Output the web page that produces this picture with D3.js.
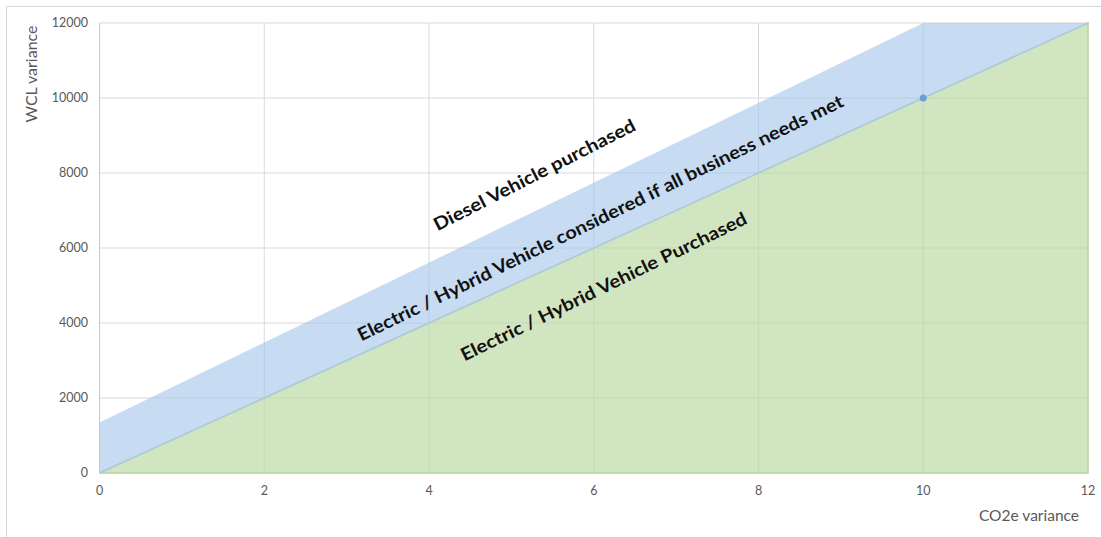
<!DOCTYPE html>
<html>
<head>
<meta charset="utf-8">
<script src="https://cdn.jsdelivr.net/npm/d3@7"></script>
<style>
  body { margin: 0; background: #fff; }
  svg { display: block; font-family: Lato, "Open Sans", sans-serif; }
</style>
</head>
<body>
<svg id="chart" width="1101" height="537"></svg>
<script>
// data
const xTicks = [0, 2, 4, 6, 8, 10, 12]
const yTicks = [0, 2000, 4000, 6000, 8000, 10000, 12000]
// lower line: purchased threshold
const greenLine = [{x: 0, y: 0}, {x: 12, y: 12000}]
// upper band edge (clipped at chart top)
const blueUpper = [{x: 0, y: 0}, {x: 0, y: 1350}, {x: 10, y: 12000}, {x: 12, y: 12000}]
const markerPoint = [{x: 10, y: 10000}]
const regionLabels = [
  {text: 'Diesel Vehicle purchased', x: 5.28, y: 7950, len: 224, rot: -27},
  {text: 'Electric / Hybrid Vehicle considered if all business needs met', x: 6.08, y: 6800, len: 538, rot: -26},
  {text: 'Electric / Hybrid Vehicle Purchased', x: 6.12, y: 4970, len: 316, rot: -26},
]

const svg = d3.select('#chart')
const x = d3.scaleLinear().domain([0, 12]).range([99.5, 1088])
const y = d3.scaleLinear().domain([0, 12000]).range([473, 23])

// outer chart border
svg.append('rect')
   .attr('x', 6.5).attr('y', 6.5)
   .attr('width', 1110).attr('height', 560)
   .attr('fill', 'none')
   .attr('stroke', '#d9d9d9')

// gridlines
const grid = svg.append('g').attr('class', 'grid')
grid.selectAll('.hgrid')
    .data(yTicks)
    .join('line')
    .attr('x1', x(0)).attr('x2', x(12))
    .attr('y1', d => y(d)).attr('y2', d => y(d))
    .attr('stroke', '#d9d9d9')
grid.selectAll('.vgrid')
    .data(xTicks)
    .join('line')
    .attr('x1', d => x(d)).attr('x2', d => x(d))
    .attr('y1', y(0)).attr('y2', y(12000))
    .attr('stroke', '#d9d9d9')

// areas
const toPts = arr => arr.map(d => [x(d.x), y(d.y)])
const bluePoly = toPts(blueUpper).concat(toPts(greenLine).reverse())
const greenPoly = toPts(greenLine).concat([[x(12), y(0)]])

svg.append('path')
   .attr('d', 'M' + bluePoly.join('L') + 'Z')
   .attr('fill', '#a9c8ec')
   .attr('fill-opacity', 0.65)
svg.append('path')
   .attr('d', 'M' + greenPoly.join('L') + 'Z')
   .attr('fill', '#bcd9a4')
   .attr('fill-opacity', 0.68)
   .attr('stroke', '#b9d6a3')
   .attr('stroke-width', 1.5)
svg.append('path')
   .attr('d', d3.line().x(d => x(d.x)).y(d => y(d.y))(greenLine))
   .attr('stroke', '#a8cce0')
   .attr('stroke-width', 1.5)
   .attr('fill', 'none')

// y axis line
svg.append('line')
   .attr('x1', x(0)).attr('x2', x(0))
   .attr('y1', y(0)).attr('y2', y(12000))
   .attr('stroke', '#c8c8c8')

svg.selectAll('.marker')
   .data(markerPoint)
   .join('circle')
   .attr('cx', d => x(d.x)).attr('cy', d => y(d.y))
   .attr('r', 3.5)
   .attr('fill', '#6f9bd6')

// tick labels
svg.selectAll('.xlab')
   .data(xTicks)
   .join('text')
   .attr('x', d => x(d)).attr('y', 495)
   .attr('text-anchor', 'middle')
   .attr('font-size', 12.5)
   .attr('fill', '#595959')
   .text(d => d)
svg.selectAll('.ylab')
   .data(yTicks)
   .join('text')
   .attr('x', 88).attr('y', d => y(d))
   .attr('dy', '0.35em')
   .attr('text-anchor', 'end')
   .attr('font-size', 12.5)
   .attr('fill', '#595959')
   .text(d => d)

// axis titles
svg.append('text')
   .attr('transform', 'translate(37,74) rotate(-90)')
   .attr('text-anchor', 'middle')
   .attr('font-size', 16)
   .attr('fill', '#595959')
   .text('WCL variance')
svg.append('text')
   .attr('x', 1079).attr('y', 521)
   .attr('text-anchor', 'end')
   .attr('font-size', 15.5)
   .attr('fill', '#595959')
   .text('CO2e variance')

// region labels, tilted along the bands
svg.selectAll('.region')
   .data(regionLabels)
   .join('text')
   .attr('transform', d => `translate(${x(d.x)},${y(d.y)}) rotate(${d.rot})`)
   .attr('text-anchor', 'middle')
   .attr('dy', '0.35em')
   .attr('font-size', 18)
   .attr('font-weight', 'bold')
   .attr('fill', '#111')
   .attr('textLength', d => d.len)
   .attr('lengthAdjust', 'spacingAndGlyphs')
   .text(d => d.text)
</script>
</body>
</html>
